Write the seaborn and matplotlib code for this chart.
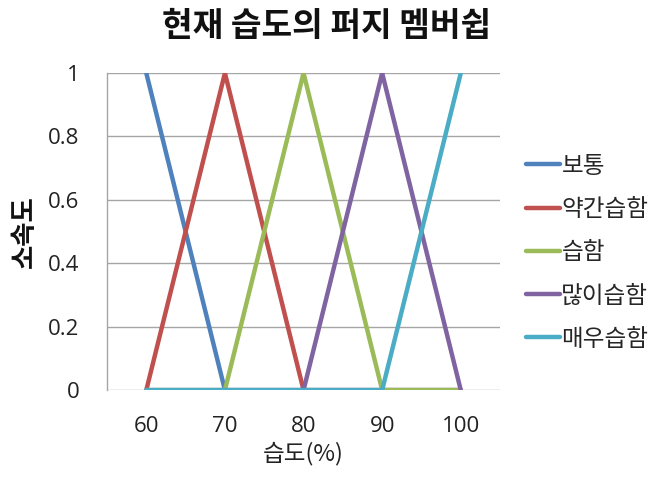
import matplotlib
matplotlib.use("Agg")
import matplotlib.pyplot as plt
import seaborn as sns
import pandas as pd

# Membership degrees of the current humidity for each fuzzy set
humidity = ["60", "70", "80", "90", "100"]
normal = [1, 0, 0, 0, 0]
slightly_humid = [0, 1, 0, 0, 0]
humid = [0, 0, 1, 0, 0]
very_humid = [0, 0, 0, 1, 0]
extremely_humid = [0, 0, 0, 0, 1]
series_names = ["보통", "약간습함", "습함", "많이습함", "매우습함"]
colors = ["#4F81BD", "#C0504D", "#9BBB59", "#8064A2", "#4BACC6"]
yticks = [0, 0.2, 0.4, 0.6, 0.8, 1]
ytick_labels = ["0", "0.2", "0.4", "0.6", "0.8", "1"]

sns.set_theme(style="white")
plt.rcParams["font.family"] = ["Noto Sans CJK KR", "DejaVu Sans"]

frames = []
for name, vals in zip(series_names,
                      [normal, slightly_humid, humid, very_humid, extremely_humid]):
    frames.append(pd.DataFrame({"습도": humidity, "소속도": vals, "구분": name}))
df = pd.concat(frames, ignore_index=True)

fig = plt.figure(figsize=(6.58, 4.84), dpi=100)
ax = fig.add_axes([0.1626, 0.194, 0.5974, 0.655])

sns.lineplot(data=df, x="습도", y="소속도", hue="구분", hue_order=series_names,
             palette=colors, linewidth=3.2, ax=ax, sort=False, legend=True)

ax.set_xlim(-0.5, len(humidity) - 0.5)
ax.set_ylim(0, 1)
ax.set_yticks(yticks)
ax.set_yticklabels(ytick_labels)
ax.yaxis.grid(True, color="#A6A6A6", linewidth=1.0)
ax.xaxis.grid(False)
ax.set_axisbelow(True)
for side in ["top", "right", "bottom"]:
    ax.spines[side].set_visible(False)
ax.spines["left"].set_color("#A6A6A6")
ax.spines["left"].set_linewidth(1.0)
ax.tick_params(axis="y", length=0, pad=20, labelsize=16, colors="#222222")
ax.tick_params(axis="x", length=0, pad=19, labelsize=16, colors="#222222")
for lbl in ax.get_xticklabels() + ax.get_yticklabels():
    lbl.set_family(["Open Sans", "DejaVu Sans"])

ax.set_xlabel("습도(%)", fontsize=17, color="#222222", labelpad=3)
ax.set_ylabel("소속도", fontsize=19, fontweight="bold", color="#111111", labelpad=7)

fig.text(0.497, 0.945, "현재 습도의 퍼지 멤버쉽", ha="center", va="center",
         fontsize=24, fontweight="bold", color="#111111")

leg = ax.legend(loc="center left", bbox_to_anchor=(0.785, 0.478),
                bbox_transform=fig.transFigure, frameon=False, fontsize=17,
                handlelength=1.45, handletextpad=0.05, labelspacing=0.86,
                borderaxespad=0)
for line in leg.get_lines():
    line.set_linewidth(3.2)

fig.savefig("out.png", dpi=100)
